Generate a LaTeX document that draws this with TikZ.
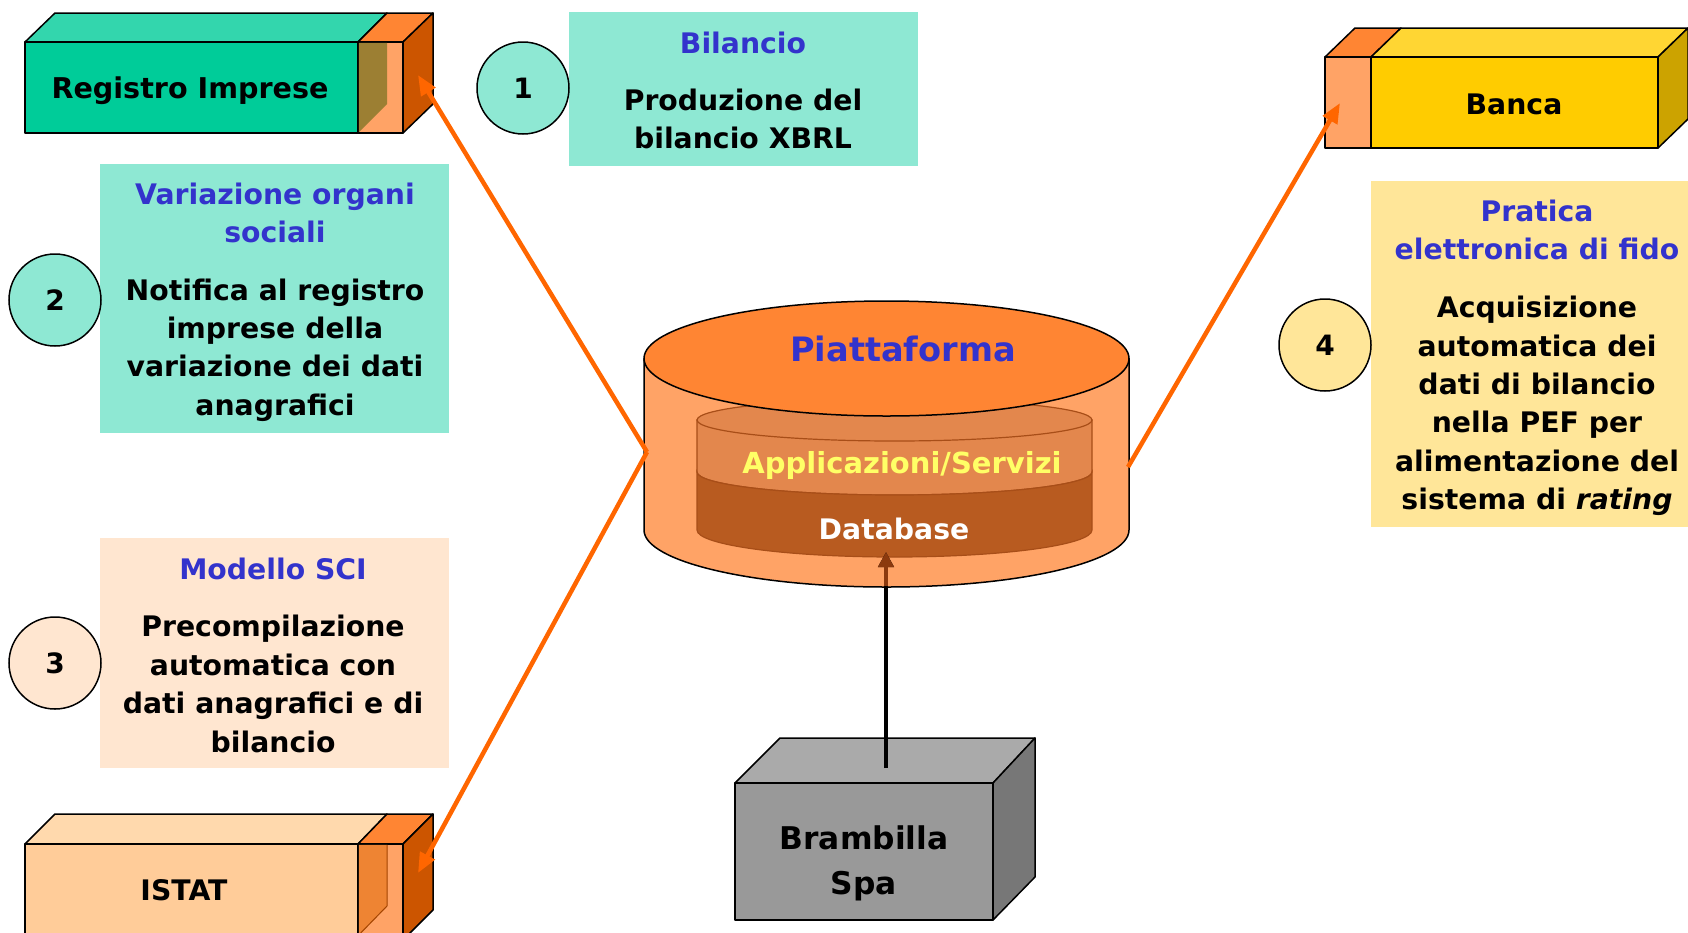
\documentclass[tikz,border=0pt]{standalone}
\usepackage{fontspec}
\setmainfont{DejaVu Sans}
\usetikzlibrary{arrows.meta}
\definecolor{tealbox}{HTML}{8EE8D3}
\definecolor{peachbox}{HTML}{FFE6D0}
\definecolor{yellowbox}{HTML}{FFE699}
\definecolor{ttlblue}{HTML}{3333CC}
\definecolor{greenfront}{HTML}{00CC99}
\definecolor{greentop}{HTML}{33D6AD}
\definecolor{orangetop}{HTML}{FF8533}
\definecolor{orangelight}{HTML}{FFA366}
\definecolor{orangeside}{HTML}{CC5500}
\definecolor{olive}{HTML}{9C7F33}
\definecolor{istatfront}{HTML}{FFCC99}
\definecolor{istattop}{HTML}{FFD9AD}
\definecolor{istatinner}{HTML}{EE8433}
\definecolor{bancafront}{HTML}{FFCC00}
\definecolor{bancatop}{HTML}{FFD633}
\definecolor{bancaside}{HTML}{CCA300}
\definecolor{grayfront}{HTML}{999999}
\definecolor{graytop}{HTML}{AAAAAA}
\definecolor{grayside}{HTML}{777777}
\definecolor{cylupper}{HTML}{E3874D}
\definecolor{cyllower}{HTML}{B85B20}
\definecolor{cylline}{HTML}{A84E18}
\definecolor{arroworange}{HTML}{FF6600}
\definecolor{arrowbrown}{HTML}{8C3A0E}
\definecolor{appyellow}{HTML}{FFFF66}
\begin{document}
\begin{tikzpicture}[x=1pt,y=-1pt,
  txt/.style={font=\fontsize{28.3}{38.4}\selectfont\bfseries, inner sep=0pt, align=center},
  ttl/.style={txt, text=ttlblue},
  infobox/.style={draw=none, inner sep=0pt, anchor=north west},
  numcirc/.style={circle, draw=black, line width=1.5pt, minimum size=92pt, inner sep=0pt, font=\fontsize{28}{34}\selectfont\bfseries},
  face/.style={draw=black, line width=1.5pt, line join=round},
  innerline/.style={draw=cylline, line width=1.2pt},
  orangearrow/.style={draw=arroworange, fill=arroworange, line width=4.5pt, -{Triangle[length=20pt,width=16pt]}},
  blackarrow/.style={draw=black, line width=4pt, -{Triangle[length=15pt,width=15pt]}},
]
\useasboundingbox (0,0) rectangle (1688,932);
\clip (0,0) rectangle (1688,932);

% ---------- info boxes ----------
\node[infobox, fill=tealbox, minimum width=349pt, minimum height=154pt] (box1) at (569,12) {};
\node[infobox, fill=tealbox, minimum width=349pt, minimum height=269pt] (box2) at (100,164) {};
\node[infobox, fill=peachbox, minimum width=349pt, minimum height=230pt] (box3) at (100,538) {};
\node[infobox, fill=yellowbox, minimum width=330pt, minimum height=346pt] (box4) at (1371,181) {};

\node[ttl] (t1) at (743,43) {Bilancio};
\node[txt] (b1) at (743,119) {Produzione del\\bilancio XBRL};
\node[ttl] (t2) at (275,213) {Variazione organi\\sociali};
\node[txt] (b2) at (275,350) {Notifica al registro\\imprese della\\variazione dei dati\\anagrafici};
\node[ttl] (t3) at (273,569) {Modello SCI};
\node[txt] (b3) at (273,684) {Precompilazione\\automatica con\\dati anagrafici e di\\bilancio};
\node[ttl] (t4) at (1537,230) {Pratica\\elettronica di fido};
\node[txt] (b4) at (1537,406) {Acquisizione\\automatica dei\\dati di bilancio\\nella PEF per\\alimentazione del\\sistema di \textit{rating}};

% ---------- number circles ----------
\node[numcirc, fill=tealbox] (c1) at (523,88) {1};
\node[numcirc, fill=tealbox] (c2) at (55,300) {2};
\node[numcirc, fill=peachbox] (c3) at (55,663) {3};
\node[numcirc, fill=yellowbox] (c4) at (1325,345) {4};

% ---------- Registro Imprese box ----------
\filldraw[face, fill=greentop] (25,42) -- (55,13) -- (387,13) -- (358,42) -- cycle;
\filldraw[face, fill=greenfront] (25,42) rectangle (358,133);
\filldraw[face, fill=orangetop] (358,42) -- (387,13) -- (433,13) -- (403,42) -- cycle;
\filldraw[face, fill=orangelight] (358,42) rectangle (403,133);
\fill[olive] (358.75,42.75) -- (387,42.75) -- (387,104) -- (358.75,132.25) -- cycle;
\filldraw[face, fill=orangeside] (403,42) -- (433,13) -- (433,104) -- (403,133) -- cycle;
\node[txt, font=\fontsize{28.6}{38}\selectfont\bfseries] (reg) at (190,91) {Registro Imprese};

% ---------- ISTAT box ----------
\filldraw[face, fill=istattop] (25,844) -- (55,814) -- (387,814) -- (358,844) -- cycle;
\filldraw[face, fill=istatfront] (25,844) rectangle (358,940);
\filldraw[face, fill=orangetop] (358,844) -- (387,814) -- (433,814) -- (403,844) -- cycle;
\filldraw[face, fill=orangelight] (358,844) rectangle (403,940);
\fill[istatinner] (358.75,844.75) -- (387,844.75) -- (387,906) -- (358.75,935) -- cycle;
\draw[draw=orangeside!80!black, line width=1pt] (387,844.75) -- (387,906) -- (358.75,935);
\filldraw[face, fill=orangeside] (403,844) -- (433,814) -- (433,910) -- (403,940) -- cycle;
\node[txt] (istat) at (184,890) {ISTAT};

% ---------- Banca box ----------
\filldraw[face, fill=orangetop] (1325,57) -- (1355,28) -- (1401,28) -- (1371,57) -- cycle;
\filldraw[face, fill=orangelight] (1325,57) rectangle (1371,148);
\filldraw[face, fill=bancatop] (1371,57) -- (1401,28) -- (1688,28) -- (1658,57) -- cycle;
\filldraw[face, fill=bancafront] (1371,57) rectangle (1658,148);
\filldraw[face, fill=bancaside] (1658,57) -- (1688,28) -- (1688,119) -- (1658,148) -- cycle;
\node[txt] (banca) at (1514,104) {Banca};

% ---------- Brambilla box ----------
\filldraw[face, fill=graytop] (735,783) -- (780,738) -- (1035,738) -- (993,783) -- cycle;
\filldraw[face, fill=grayfront] (735,783) rectangle (993,920);
\filldraw[face, fill=grayside] (993,783) -- (1035,738) -- (1035,877) -- (993,920) -- cycle;
\node[txt, font=\fontsize{31.3}{45}\selectfont\bfseries] (bramb) at (864,863) {Brambilla\\Spa};
\coordinate (brambTop) at (886,768);

\coordinate (dbTip) at (886,552);
\coordinate (cylBottom) at (886,586);

% ---------- cylinder ----------
\filldraw[face, fill=orangelight] (644,358.5) -- (644,530)
   arc[start angle=180, end angle=360, x radius=242.5pt, y radius=57pt] -- (1129,358.5) -- cycle;
\filldraw[innerline, fill=cylupper] (697,420) -- (697,472)
   arc[start angle=180, end angle=360, x radius=197.5pt, y radius=23pt] -- (1092,420) -- cycle;
\filldraw[innerline, fill=cyllower] (697,472) -- (697,530)
   arc[start angle=180, end angle=360, x radius=197.5pt, y radius=27pt] -- (1092,472)
   arc[start angle=360, end angle=180, x radius=197.5pt, y radius=23pt] -- cycle;
\filldraw[innerline, fill=cylupper] (894.5,420) ellipse[x radius=197.5pt, y radius=21pt];
\filldraw[face, fill=orangetop] (886.5,358.5) ellipse[x radius=242.5pt, y radius=57.5pt];
\node[txt, font=\fontsize{33.6}{40}\selectfont\bfseries, text=ttlblue] (piatt) at (903,349) {Piattaforma};
\node[txt, font=\fontsize{29}{34}\selectfont\bfseries, text=appyellow] (app) at (902,465) {Applicazioni/Servizi};
\node[txt] (db) at (894,529) {\textcolor{white}{Database}};

% black arrow from Brambilla to Database
\draw[blackarrow] (brambTop) -- (dbTip);
\draw[line width=4pt, draw=arrowbrown, -{Triangle[length=15pt,width=15pt]}] (cylBottom) -- (dbTip);

% ---------- orange arrows ----------
\coordinate (cylL) at (647,452);
\coordinate (cylR) at (1128,467);
\coordinate (regTip) at (418,75);
\coordinate (istTip) at (418,873);
\coordinate (bancaTip) at (1340,103);
\draw[orangearrow] (cylL) -- (regTip);
\draw[orangearrow] (cylL) -- (istTip);
\draw[orangearrow] (cylR) -- (bancaTip);
\end{tikzpicture}
\end{document}
